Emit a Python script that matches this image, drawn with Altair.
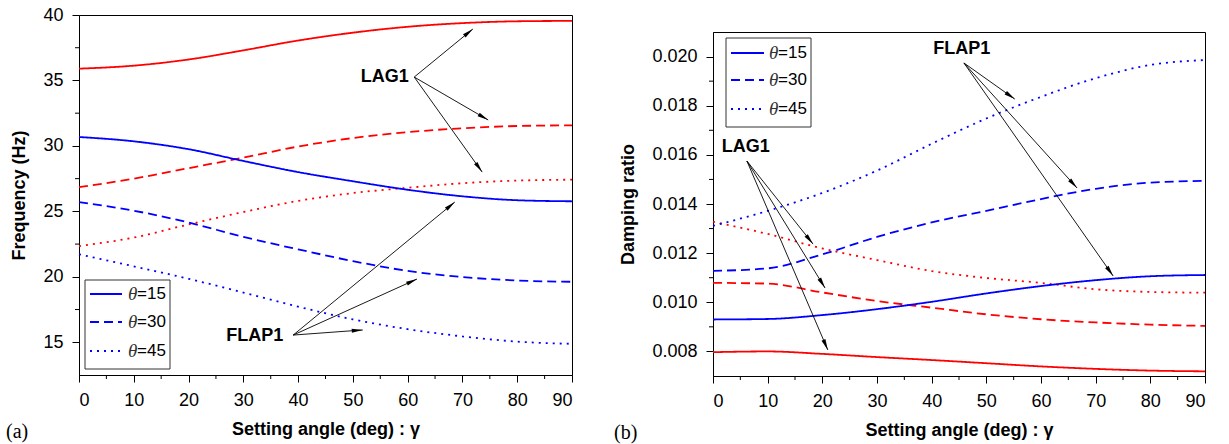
import math
import altair as alt
import pandas as pd

# Setting angle gamma (deg)
ANGLE = [0, 10, 20, 30, 40, 50, 60, 70, 80, 90]
THETAS = [15, 30, 45]

# Natural frequency (Hz)
FREQ_LAG = {
    15: [35.9, 36.13, 36.6, 37.3, 38.05, 38.65, 39.1, 39.38, 39.52, 39.55],
    30: [26.85, 27.5, 28.3, 29.1, 29.95, 30.6, 31.05, 31.35, 31.52, 31.57],
    45: [22.35, 23.0, 24.0, 24.95, 25.8, 26.4, 26.8, 27.15, 27.35, 27.42],
}
FREQ_FLAP = {
    15: [30.68, 30.35, 29.75, 28.85, 28.0, 27.3, 26.65, 26.15, 25.85, 25.77],
    30: [25.7, 25.05, 24.15, 23.05, 22.1, 21.2, 20.45, 19.98, 19.72, 19.62],
    45: [21.72, 20.8, 19.85, 18.8, 17.72, 16.75, 16.0, 15.45, 15.05, 14.88],
}

# Damping ratio
DAMP_LAG = {
    15: [0.00797, 0.00800, 0.00790, 0.00777, 0.00765, 0.00752, 0.00739, 0.00729, 0.00722, 0.00719],
    30: [0.01079, 0.01076, 0.01040, 0.01005, 0.00978, 0.00951, 0.00931, 0.00918, 0.00909, 0.00904],
    45: [0.01328, 0.01278, 0.01219, 0.01172, 0.01127, 0.01099, 0.01079, 0.01053, 0.01042, 0.01039],
}
DAMP_FLAP = {
    15: [0.00930, 0.00932, 0.00948, 0.00972, 0.01002, 0.01036, 0.01066, 0.01090, 0.01106, 0.01111],
    30: [0.01128, 0.01138, 0.01195, 0.01266, 0.01325, 0.01372, 0.01420, 0.01462, 0.01487, 0.01494],
    45: [0.01311, 0.01372, 0.01445, 0.01536, 0.01645, 0.01748, 0.01836, 0.01912, 0.01966, 0.01986],
}

# Mode annotations: label, text anchor (x, y), arrow origin (x, y), arrow tips [(x, y), ...]
FREQ_NOTES = [
    ("LAG1", (55.8, 35.26), (61.2, 35.26), [(71.9, 38.93), (74.7, 31.98), (73.6, 28.0)]),
    ("FLAP1", (32.1, 15.48), (39.1, 15.55), [(68.6, 25.71), (61.7, 19.83), (51.8, 15.94)]),
]
DAMP_NOTES = [
    ("LAG1", (6.0, 0.01632), (6.2, 0.01575), [(18.3, 0.01237), (20.5, 0.01058), (21.0, 0.00806)]),
    ("FLAP1", (45.5, 0.02031), (45.9, 0.01974), [(55.2, 0.01827), (66.6, 0.01465), (73.2, 0.01107)]),
]

X_MINOR = [5, 15, 25, 35, 45, 55, 65, 75, 85]
FREQ_Y_MINOR = [17.5, 22.5, 27.5, 32.5, 37.5]
DAMP_Y_MINOR = [0.009, 0.011, 0.013, 0.015, 0.017, 0.019]

RED = "#ff0000"
BLUE = "#0000ff"
DASHES = {15: [1, 0], 30: [9, 5], 45: [2, 5]}
SANS = "Liberation Sans"
SERIF = "Liberation Serif"


def curves_frame(lag, flap):
    rows = []
    for mode, table in (("LAG1", lag), ("FLAP1", flap)):
        for th in THETAS:
            for a, v in zip(ANGLE, table[th]):
                rows.append({"angle": a, "value": v, "mode": mode, "theta": th,
                             "series": f"{mode}-{th}"})
    return pd.DataFrame(rows)


def panel(lag, flap, notes, ydom, yticks, yminor, yfmt, ytitle, W, H,
          legend_box, legend_rows, line_x, theta_x, tag, tag_xy):
    xs = alt.Scale(domain=[0, 90], nice=False, zero=False)
    ys = alt.Scale(domain=ydom, nice=False, zero=False)
    x_enc = alt.X("angle:Q", scale=xs,
                  axis=alt.Axis(values=list(range(0, 91, 10)), title="Setting angle (deg) : γ"))
    y_enc = alt.Y("value:Q", scale=ys,
                  axis=alt.Axis(values=yticks, format=yfmt, title=ytitle))

    df = curves_frame(lag, flap)
    lines = alt.Chart(df).mark_line(strokeWidth=1.8, interpolate="monotone").encode(
        x=x_enc, y=y_enc,
        color=alt.Color("mode:N", scale=alt.Scale(domain=["LAG1", "FLAP1"], range=[RED, BLUE]),
                        legend=None),
        strokeDash=alt.StrokeDash("theta:O", scale=alt.Scale(domain=THETAS,
                                  range=[DASHES[t] for t in THETAS]), legend=None),
        detail="series:N",
    )

    # minor ticks on the bottom and left axes
    xm = alt.Chart(pd.DataFrame({"angle": X_MINOR})).mark_rule(color="black", strokeWidth=1).encode(
        x=alt.X("angle:Q", scale=xs), y=alt.value(H), y2=alt.value(H + 4))
    ym = alt.Chart(pd.DataFrame({"value": yminor})).mark_rule(color="black", strokeWidth=1).encode(
        y=alt.Y("value:Q", scale=ys), x=alt.value(0), x2=alt.value(-4))

    # annotation arrows
    sx = W / 90.0
    sy = H / (ydom[1] - ydom[0])
    seg, heads, labels = [], [], []
    for name, (tx, ty), (ox, oy), tips in notes:
        labels.append({"angle": tx, "value": ty, "label": name})
        for hx, hy in tips:
            seg.append({"angle": ox, "value": oy, "angle2": hx, "value2": hy})
            dx = (hx - ox) * sx
            dy = -(hy - oy) * sy
            ang = math.degrees(math.atan2(dx, -dy)) % 360
            heads.append({"angle": hx, "value": hy, "rot": ang})
    arrows = alt.Chart(pd.DataFrame(seg)).mark_rule(color="black", strokeWidth=0.9).encode(
        x=alt.X("angle:Q", scale=xs), y=alt.Y("value:Q", scale=ys),
        x2="angle2:Q", y2="value2:Q")
    tips = alt.Chart(pd.DataFrame(heads)).mark_point(
        shape="M0,0 L0.42,2.2 L-0.42,2.2 Z", filled=True, color="black", opacity=1,
        size=100, strokeWidth=0).encode(
        x=alt.X("angle:Q", scale=xs), y=alt.Y("value:Q", scale=ys),
        angle=alt.Angle("rot:Q", scale=None))
    texts = alt.Chart(pd.DataFrame(labels)).mark_text(
        font=SANS, fontSize=18, fontWeight="bold", color="black",
        align="center", baseline="middle").encode(
        x=alt.X("angle:Q", scale=xs), y=alt.Y("value:Q", scale=ys), text="label:N")

    # legend box with line-style samples
    bx0, by0, bx1, by1 = legend_box
    layers = [lines, xm, ym, arrows, tips, texts]
    box = alt.Chart(pd.DataFrame({"k": [0]})).mark_rect(
        fill="white", stroke="#333333", strokeWidth=1).encode(
        x=alt.value(bx0), x2=alt.value(bx1), y=alt.value(by0), y2=alt.value(by1))
    layers.append(box)
    for th, ry in zip(THETAS, legend_rows):
        one = pd.DataFrame({"t": [th]})
        layers.append(alt.Chart(one).mark_rule(color=BLUE, strokeWidth=1.8,
                                               strokeDash=DASHES[th]).encode(
            x=alt.value(line_x[0]), x2=alt.value(line_x[1]), y=alt.value(ry)))
        layers.append(alt.Chart(pd.DataFrame({"s": ["θ"]})).mark_text(
            font=SERIF, fontStyle="italic", fontSize=19, color="#333333",
            align="left", baseline="middle").encode(
            text="s:N", x=alt.value(theta_x), y=alt.value(ry)))
        layers.append(alt.Chart(pd.DataFrame({"s": [f"={th}"]})).mark_text(
            font=SANS, fontSize=17, color="black", align="left", baseline="middle").encode(
            text="s:N", x=alt.value(theta_x + 9), y=alt.value(ry)))

    layers.append(alt.Chart(pd.DataFrame({"s": [tag]})).mark_text(
        font=SERIF, fontSize=20, color="black", align="left", baseline="middle").encode(
        text="s:N", x=alt.value(tag_xy[0]), y=alt.value(tag_xy[1])))

    return alt.layer(*layers).properties(width=W, height=H)


left = panel(FREQ_LAG, FREQ_FLAP, FREQ_NOTES, [12.5, 40], [15, 20, 25, 30, 35, 40],
             FREQ_Y_MINOR, "d", "Frequency (Hz)", 493, 360,
             (6, 265, 91, 354), [279, 307, 336], (11, 43), 49, "(a)", (-73, 417))

right = panel(DAMP_LAG, DAMP_FLAP, DAMP_NOTES, [0.007, 0.021],
              [0.008, 0.010, 0.012, 0.014, 0.016, 0.018, 0.020],
              DAMP_Y_MINOR, ".3f", "Damping ratio", 492, 344,
              (13, 6, 98, 95), [21, 48, 77], (18, 51), 56, "(b)", (-99, 401))

# empty strip that lowers panel (b) so both panels share a bottom edge
spacer = alt.Chart(pd.DataFrame({"k": [0]})).mark_point(opacity=0).encode(
    x=alt.value(0), y=alt.value(0)
).properties(width=1, height=16, view=alt.ViewBackground(stroke=None))

right_col = alt.vconcat(spacer, right, spacing=0)

chart = alt.hconcat(left, right_col, spacing=36).configure_view(
    stroke="black", strokeWidth=1
).configure_axis(
    grid=False,
    domainColor="black", domainWidth=1,
    tickColor="black", tickSize=7, tickWidth=1,
    labelFont=SANS, labelFontSize=18, labelColor="black",
    titleFont=SANS, titleFontSize=18, titleFontWeight="bold", titleColor="black",
).configure_axisX(labelPadding=9, titlePadding=11).configure_axisY(labelPadding=9, titlePadding=14)

chart.save("out.html", embed_options={"renderer": "svg", "actions": False})
